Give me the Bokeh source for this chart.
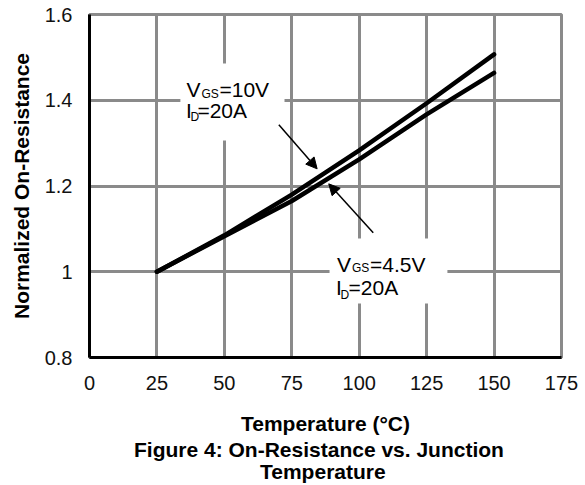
from bokeh.plotting import figure
from bokeh.models import Arrow, NormalHead, Label, Title
from bokeh.embed import file_html
from bokeh.resources import INLINE

# ---- data ----
temperature = [25, 50, 75, 100, 125, 150]
r_vgs_10v = [1.0, 1.085, 1.18, 1.283, 1.393, 1.507]
r_vgs_4v5 = [1.0, 1.083, 1.165, 1.262, 1.367, 1.464]

x_ticks = [0, 25, 50, 75, 100, 125, 150, 175]
y_ticks = [0.8, 1.0, 1.2, 1.4, 1.6]
y_tick_labels = ["0.8", "1", "1.2", "1.4", "1.6"]

FONT = "Liberation Sans"
GRID = "#8a8a8a"

p = figure(width=585, height=485, x_range=(0, 175), y_range=(0.8, 1.6),
           output_backend="svg", toolbar_location=None,
           min_border_left=89, min_border_right=24, min_border_top=14,
           min_border_bottom=128)
p.title.visible = False
p.background_fill_color = "white"
p.border_fill_color = "white"
p.outline_line_color = GRID
p.outline_line_width = 3

p.xaxis.ticker = x_ticks
p.yaxis.ticker = y_ticks
p.yaxis.major_label_overrides = {t: s for t, s in zip(y_ticks, y_tick_labels)}

for ax in (p.xaxis, p.yaxis):
    ax.axis_line_color = "black"
    ax.axis_line_width = 3
    ax.major_tick_line_color = None
    ax.minor_tick_line_color = None
    ax.major_label_text_font = FONT
    ax.major_label_text_font_size = "20px"
    ax.major_label_text_color = "#111111"
    ax.axis_label_text_font = FONT
    ax.axis_label_text_font_size = "21px"
    ax.axis_label_text_font_style = "bold"
    ax.axis_label_text_color = "black"

p.xaxis.axis_label = "Temperature (°C)"
p.yaxis.axis_label = "Normalized On-Resistance"
p.xaxis.major_label_standoff = 12
p.xaxis.axis_label_standoff = 19
p.yaxis.major_label_standoff = 11
p.yaxis.axis_label_standoff = 9

for g in (p.xgrid, p.ygrid):
    g.grid_line_color = GRID
    g.grid_line_width = 3

# white boxes behind the annotation texts (interrupt the grid)
p.quad(left=[33.7, 89.0], right=[72.3, 132.7], bottom=[1.306, 0.926], top=[1.4857, 1.0776],
       fill_color="white", line_color=None)

p.line(temperature, r_vgs_10v, line_color="black", line_width=4.5, line_join="round", line_cap="round")
p.line(temperature, r_vgs_4v5, line_color="black", line_width=4.5, line_join="round", line_cap="round")

# arrows
p.add_layout(Arrow(end=NormalHead(size=11, fill_color="black", line_color="black"),
                   x_start=70.2, y_start=1.343, x_end=84.4, y_end=1.240,
                   line_color="black", line_width=1.5))
p.add_layout(Arrow(end=NormalHead(size=11, fill_color="black", line_color="black"),
                   x_start=105.2, y_start=1.091, x_end=88.7, y_end=1.205,
                   line_color="black", line_width=1.5))

def lab(x, y, t, size):
    p.add_layout(Label(x=x, y=y, text=t, text_font=FONT, text_font_size=size,
                       text_color="black", text_baseline="alphabetic", text_align="left"))

# upper annotation
lab(35.97, 1.4262, "V", "21px")
lab(41.53, 1.4146, "GS", "12px")
lab(48.2, 1.4262, "=10V", "21px")
lab(35.78, 1.3761, "I", "21px")
lab(37.45, 1.3598, "D", "12px")
lab(40.0, 1.3761, "=20A", "21px")
# lower annotation
lab(91.77, 1.0162, "V", "21px")
lab(97.33, 1.0076, "GS", "12px")
lab(104.0, 1.0162, "=4.5V", "21px")
lab(91.4, 0.964, "I", "21px")
lab(93.06, 0.9469, "D", "12px")
lab(96.03, 0.964, "=20A", "21px")

# figure caption below the x-axis title
caption = [("Figure 4: On-Resistance vs. Junction", -4.5, 44.5), ("Temperature", -1, 170.5)]
for txt, so, off in caption:
    p.add_layout(Title(text=txt, align="left", text_font=FONT, text_font_size="21px",
                       text_font_style="bold", text_color="black",
                       standoff=so, offset=off), "below")

open("out.html", "w").write(file_html(p, INLINE))
